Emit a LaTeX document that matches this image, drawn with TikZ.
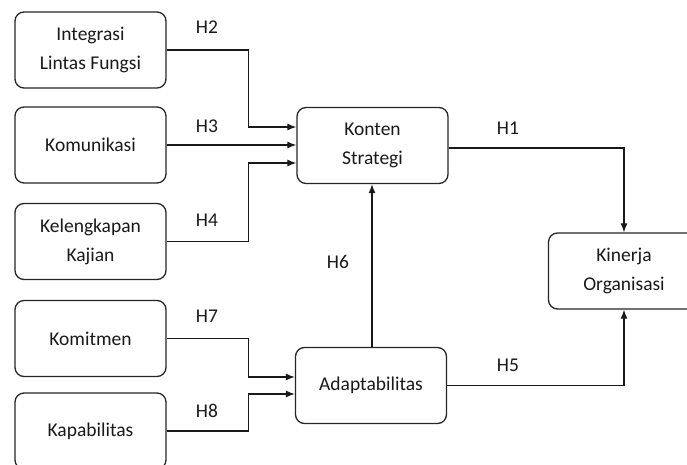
\documentclass[tikz,border=0pt]{standalone}
\usepackage{fontspec}
\setmainfont{Carlito}
\usetikzlibrary{arrows.meta,positioning}

\tikzset{
  varbox/.style={draw=black!85, line width=1.3pt, rounded corners=9pt,
    minimum width=151pt, minimum height=76pt, align=center,
    text=black!90, font=\fontsize{19.5}{29}\selectfont},
  hyp/.style={text=black!90, font=\fontsize{19.5}{23}\selectfont},
  link/.style={draw=black!90, line width=1.2pt, -{Latex[length=9pt,width=7pt]}}
}

\begin{document}
\begin{tikzpicture}[x=1pt,y=-1pt]
		%%Location
		\clip (0,0) rectangle (687,465);
		\fill[white] (0,0) rectangle (687,465);
		%%Boxes
		\node[varbox] (integ) at (90.5,50) {Integrasi\\Lintas Fungsi};
		\node[varbox] (komun) at (90.5,145) {Komunikasi};
		\node[varbox] (kelen) at (90.5,241.5) {Kelengkapan\\Kajian};
		\node[varbox] (komit) at (90.5,338.5) {Komitmen};
		\node[varbox] (kapab) at (90.5,431) {Kapabilitas};
		\node[varbox] (konten) at (372.5,145.5) {Konten\\Strategi};
		\node[varbox] (adapt) at (371,385.5) {Adaptabilitas};
		\node[varbox] (kinerja) at (624,271) {Kinerja\\Organisasi};
		
		%%Arrows
		\draw[link] (integ.east) -- ++(82,0) |- ([yshift=18.5pt]konten.west);
		\draw[link] (komun.east) -- (komun.east -| konten.west);
		\draw[link] (kelen.east) -- ++(82,0) |- ([yshift=-17.5pt]konten.west);
		\draw[link] (komit.east) -- ++(82,0) |- ([yshift=8.5pt]adapt.west);
		\draw[link] (kapab.east) -- ++(82,0) |- ([yshift=-8.5pt]adapt.west);
		\draw[link] ([xshift=1pt]adapt.north) -- ([xshift=1pt]adapt.north |- konten.south);
		\draw[link] ([yshift=-2.5pt]konten.east) -| (kinerja.north);
		\draw[link] (adapt.east) -| (kinerja.south);
		
		%%Label
		\node[hyp] (h2) at (207,27) {H2};
		\node[hyp] (h3) at (207,126) {H3};
		\node[hyp] (h4) at (207,220) {H4};
		\node[hyp] (h7) at (207,316) {H7};
		\node[hyp] (h8) at (207,411) {H8};
		\node[hyp] (h6) at (338,262) {H6};
		\node[hyp] (h1) at (508,128) {H1};
		\node[hyp] (h5) at (508,365) {H5};
\end{tikzpicture}
\end{document}
